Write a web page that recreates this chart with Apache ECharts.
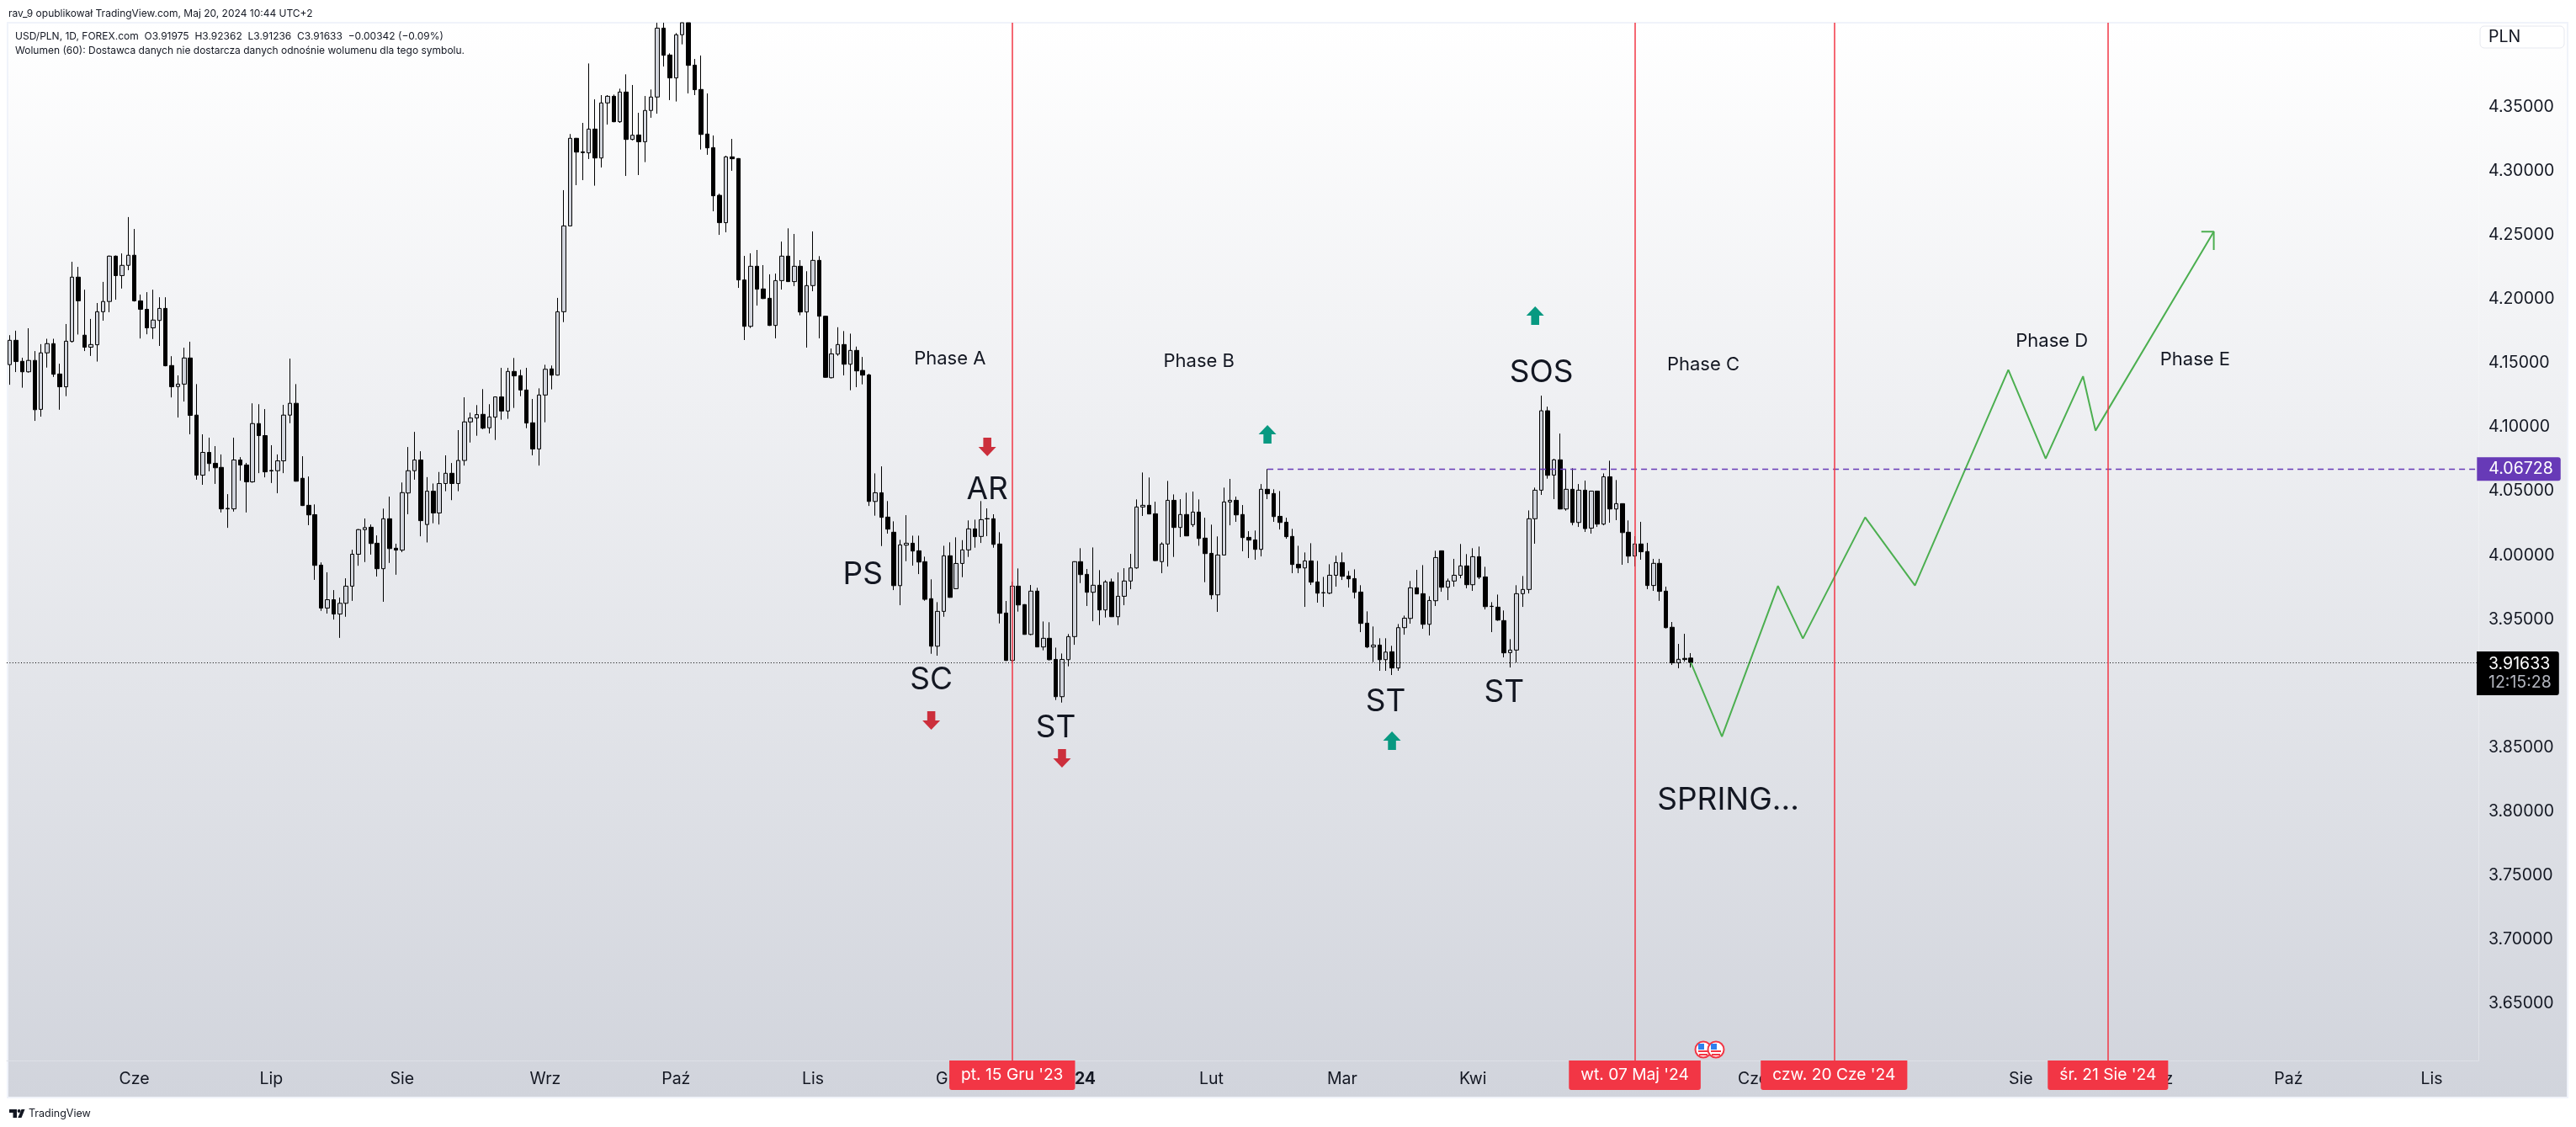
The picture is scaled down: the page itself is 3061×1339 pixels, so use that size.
<!DOCTYPE html>
<html>
<head>
<meta charset="utf-8">
<title>USD/PLN 1D</title>
<script src="https://cdn.jsdelivr.net/npm/echarts@6/dist/echarts.min.js"></script>
<style>
html,body{margin:0;padding:0;background:#fff}
#chart{width:3061px;height:1339px}
</style>
</head>
<body>
<div id="chart"></div>
<script>
// USD/PLN daily candles, one entry per session
const opens = [4.1488,4.1678,4.1514,4.1432,4.1521,4.1139,4.1580,4.1652,4.1415,4.1315,4.1669,4.2171,4.1718,4.1624,4.1643,4.1901,4.1981,4.2335,4.2183,4.2263,4.2342,4.1986,4.1920,4.1775,4.1833,4.1927,4.1481,4.1317,4.1336,4.1540,4.1094,4.0625,4.0803,4.0718,4.0686,4.0362,4.0362,4.0744,4.0705,4.0573,4.1028,4.0934,4.0662,4.0660,4.0737,4.1094,4.1186,4.0601,4.0390,4.0317,3.9923,3.9588,3.9653,3.9541,3.9625,3.9759,4.0008,4.0200,4.0219,4.0094,3.9895,4.0285,4.0055,4.0040,4.0486,4.0660,4.0744,4.0240,4.0500,4.0330,4.0560,4.0640,4.0560,4.0740,4.1041,4.1071,4.1100,4.0995,4.1078,4.1236,4.1126,4.1435,4.1402,4.1290,4.1034,4.0830,4.1251,4.1455,4.1406,4.1901,4.2571,4.3255,4.3149,4.3141,4.3327,4.3101,4.3531,4.3583,4.3384,4.3616,4.3246,4.3281,4.3228,4.3472,4.3577,4.4115,4.3905,4.3726,4.4063,4.4157,4.3826,4.3636,4.3288,4.3182,4.2810,4.2596,4.3110,4.3097,4.2149,4.1787,4.2256,4.2079,4.2006,4.1794,4.2144,4.2335,4.2136,4.2256,4.1899,4.2105,4.2302,4.1866,4.1386,4.1570,4.1645,4.1491,4.1599,4.1443,4.1408,4.0420,4.0488,4.0298,4.0180,3.9763,4.0079,4.0094,4.0035,3.9950,3.9661,3.9290,3.9562,3.9996,3.9739,3.9936,4.0042,4.0206,4.0147,4.0286,4.0285,4.0088,3.9549,3.9179,3.9759,3.9615,3.9382,3.9720,3.9284,3.9352,3.9187,3.8896,3.9185,3.9365,3.9950,3.9851,3.9711,3.9766,3.9573,3.9792,3.9520,3.9680,3.9799,3.9901,4.0377,4.0390,4.0324,3.9950,4.0088,4.0429,4.0217,4.0318,4.0239,4.0337,4.0134,4.0015,3.9691,4.0002,4.0416,4.0429,4.0318,4.0140,4.0120,4.0046,4.0515,4.0482,4.0304,4.0258,4.0147,3.9930,3.9901,3.9956,3.9792,3.9706,3.9704,3.9844,3.9943,3.9838,3.9818,3.9713,3.9470,3.9284,3.9299,3.9185,3.9247,3.9120,3.9435,3.9507,3.9746,3.9700,3.9461,3.9645,4.0035,3.9750,3.9799,3.9844,3.9917,3.9770,3.9989,3.9831,3.9600,3.9595,3.9490,3.9240,3.9260,3.9700,3.9733,4.0285,4.0508,4.1128,4.0626,4.0745,4.0361,4.0515,4.0256,4.0508,4.0212,4.0501,4.0243,4.0613,4.0361,4.0403,4.0180,3.9994,4.0088,4.0029,3.9764,3.9937,3.9720,3.9438,3.9160,3.9195,3.91975];
const closes = [4.1678,4.1512,4.1432,4.1521,4.1136,4.1580,4.1652,4.1413,4.1315,4.1671,4.2171,4.1986,4.1624,4.1645,4.1901,4.1981,4.2335,4.2183,4.2263,4.2342,4.1986,4.1920,4.1775,4.1836,4.1927,4.1479,4.1315,4.1336,4.1540,4.1092,4.0625,4.0803,4.0716,4.0683,4.0362,4.0366,4.0744,4.0705,4.0573,4.1028,4.0934,4.0651,4.0658,4.0737,4.1094,4.1186,4.0578,4.0388,4.0315,3.9921,3.9588,3.9653,3.9541,3.9625,3.9759,4.0008,4.0200,4.0216,4.0092,3.9895,4.0285,4.0052,4.0040,4.0489,4.0660,4.0744,4.0270,4.0500,4.0330,4.0560,4.0640,4.0560,4.0740,4.1041,4.1071,4.1098,4.0992,4.1080,4.1236,4.1126,4.1435,4.1400,4.1290,4.1032,4.0830,4.1251,4.1452,4.1406,4.1901,4.2571,4.3255,4.3147,4.3143,4.3327,4.3101,4.3531,4.3583,4.3384,4.3616,4.3246,4.3279,4.3228,4.3472,4.3577,4.4115,4.3903,4.3726,4.4063,4.4157,4.3824,4.3634,4.3285,4.3180,4.2806,4.2596,4.3110,4.3095,4.2149,4.1787,4.2256,4.2077,4.2004,4.1794,4.2144,4.2335,4.2136,4.2256,4.1899,4.2105,4.2302,4.1866,4.1389,4.1572,4.1645,4.1491,4.1599,4.1439,4.1406,4.0420,4.0488,4.0296,4.0204,3.9763,4.0081,4.0094,4.0033,3.9947,3.9656,3.9290,3.9562,3.9996,3.9671,3.9936,4.0042,4.0206,4.0145,4.0278,4.0284,4.0085,3.9547,3.9179,3.9759,3.9612,3.9382,3.9720,3.9284,3.9352,3.9185,3.8896,3.9187,3.9365,3.9950,3.9849,3.9711,3.9766,3.9573,3.9792,3.9520,3.9680,3.9799,3.9901,4.0377,4.0390,4.0322,3.9958,4.0088,4.0429,4.0217,4.0318,4.0151,4.0337,4.0131,4.0013,3.9691,4.0002,4.0416,4.0429,4.0315,4.0138,4.0118,4.0046,4.0515,4.0480,4.0302,4.0256,4.0145,3.9928,3.9901,3.9956,3.9790,3.9704,3.9708,3.9844,3.9943,3.9836,3.9816,3.9711,3.9468,3.9284,3.9299,3.9185,3.9244,3.9120,3.9435,3.9509,3.9746,3.9698,3.9461,3.9647,3.9982,3.9750,3.9799,3.9844,3.9917,3.9770,3.9989,3.9829,3.9599,3.9602,3.9494,3.9238,3.9260,3.9700,3.9733,4.0285,4.0508,4.1128,4.0624,4.0745,4.0361,4.0515,4.0256,4.0508,4.0208,4.0501,4.0243,4.0613,4.0361,4.0403,4.0177,3.9993,4.0088,4.0027,3.9764,3.9937,3.9718,3.9435,3.9160,3.9188,3.9186,3.91633];
const lows = [4.1331,4.1430,4.1308,4.1425,4.1049,4.1082,4.1465,4.1392,4.1136,4.1242,4.1660,4.1723,4.1594,4.1556,4.1512,4.1831,4.1897,4.1995,4.2082,4.2225,4.1980,4.1692,4.1725,4.1688,4.1634,4.1475,4.1232,4.1075,4.1200,4.0944,4.0590,4.0550,4.0655,4.0557,4.0334,4.0214,4.0341,4.0582,4.0334,4.0566,4.0641,4.0608,4.0564,4.0484,4.0641,4.1031,4.0575,4.0385,4.0235,3.9808,3.9566,3.9545,3.9498,3.9355,3.9520,3.9644,3.9918,3.9947,4.0005,3.9834,3.9637,3.9940,3.9848,4.0024,4.0320,4.0590,4.0148,4.0100,4.0250,4.0240,4.0500,4.0430,4.0500,4.0700,4.0880,4.0933,4.0984,4.0951,4.0900,4.1058,4.1065,4.1150,4.1242,4.0992,4.0780,4.0700,4.1038,4.1295,4.1403,4.1820,4.2568,4.2889,4.2928,4.3093,4.2885,4.3027,4.3362,4.3380,4.3375,4.2961,4.3239,4.2968,4.3069,4.3415,4.3447,4.3815,4.3553,4.3542,4.3988,4.3605,4.3592,4.3167,4.3126,4.2685,4.2501,4.2521,4.3001,4.2087,4.1680,4.1774,4.1949,4.2000,4.1790,4.1693,4.2074,4.2133,4.2101,4.1873,4.1621,4.2061,4.1693,4.1385,4.1380,4.1557,4.1404,4.1288,4.1312,4.1334,4.0385,4.0309,4.0072,4.0169,3.9728,3.9610,3.9954,3.9919,3.9853,3.9645,3.9231,3.9216,3.9520,3.9668,3.9735,3.9829,3.9987,4.0059,4.0096,4.0149,4.0059,3.9468,3.9175,3.9166,3.9560,3.9380,3.9376,3.9282,3.9258,3.9179,3.8870,3.8850,3.9133,3.9301,3.9783,3.9604,3.9485,3.9455,3.9514,3.9518,3.9455,3.9610,3.9735,3.9895,4.0307,4.0320,3.9954,3.9860,3.9912,3.9987,4.0142,4.0149,4.0221,4.0074,3.9790,3.9656,3.9558,4.0000,4.0234,4.0261,4.0031,3.9978,3.9965,3.9991,4.0438,4.0261,4.0201,4.0129,3.9860,3.9860,3.9597,3.9768,3.9630,3.9597,3.9696,3.9755,3.9807,3.9748,3.9663,3.9400,3.9275,3.9166,3.9098,3.9098,3.9065,3.9098,3.9380,3.9466,3.9696,3.9426,3.9374,3.9604,3.9715,3.9650,3.9755,3.9820,3.9742,3.9722,3.9814,3.9577,3.9400,3.9488,3.9203,3.9124,3.9163,3.9597,3.9702,4.0090,4.0471,4.0598,4.0438,4.0358,4.0348,4.0234,4.0221,4.0182,4.0169,4.0221,4.0234,4.0254,4.0274,3.9926,3.9939,3.9913,3.9965,3.9735,3.9722,3.9644,3.9429,3.9144,3.9118,3.9170,3.91236];
const highs = [4.1718,4.1753,4.1542,4.1772,4.1594,4.1648,4.1690,4.1690,4.1495,4.1805,4.2291,4.2251,4.2073,4.1845,4.1969,4.2134,4.2340,4.2340,4.2356,4.2640,4.2547,4.2035,4.2054,4.2073,4.2014,4.2014,4.1554,4.1404,4.1620,4.1667,4.1336,4.0944,4.0918,4.0852,4.0787,4.0477,4.0918,4.0766,4.0721,4.1186,4.1179,4.1141,4.0859,4.0787,4.1174,4.1535,4.1336,4.0773,4.0615,4.0397,3.9944,3.9867,3.9728,3.9670,3.9820,4.0043,4.0205,4.0287,4.0240,4.0155,4.0364,4.0458,4.0090,4.0568,4.0845,4.0963,4.0812,4.0610,4.0560,4.0650,4.0780,4.0720,4.0977,4.1233,4.1113,4.1172,4.1297,4.1179,4.1240,4.1463,4.1463,4.1540,4.1448,4.1463,4.1220,4.1303,4.1487,4.1481,4.2009,4.2850,4.3288,4.3258,4.3375,4.3839,4.3559,4.3592,4.3592,4.3596,4.3642,4.3754,4.3671,4.3454,4.3585,4.3636,4.4157,4.4157,4.3918,4.4076,4.4157,4.4157,4.3874,4.3901,4.3605,4.3277,4.2823,4.3119,4.3250,4.3100,4.2337,4.2357,4.2383,4.2265,4.2193,4.2199,4.2449,4.2552,4.2508,4.2304,4.2217,4.2528,4.2335,4.1870,4.1614,4.1780,4.1750,4.1730,4.1629,4.1548,4.1417,4.0639,4.0694,4.0423,4.0265,4.0120,4.0313,4.0153,4.0153,3.9989,3.9812,3.9634,4.0074,4.0101,4.0140,4.0118,4.0272,4.0278,4.0423,4.0366,4.0320,4.0180,3.9643,3.9794,3.9897,3.9618,3.9768,3.9746,3.9483,3.9477,3.9279,3.9233,3.9385,3.9953,4.0055,3.9893,4.0061,3.9884,3.9805,3.9818,3.9866,3.9899,4.0011,4.0436,4.0646,4.0607,4.0418,4.0101,4.0580,4.0475,4.0438,4.0488,4.0497,4.0436,4.0293,4.0239,4.0147,4.0528,4.0596,4.0458,4.0392,4.0188,4.0193,4.0556,4.06728,4.0515,4.0501,4.0293,4.0206,4.0074,4.0022,4.0094,3.9956,3.9831,3.9930,3.9996,4.0022,3.9877,3.9890,3.9766,3.9562,3.9444,3.9352,3.9352,3.9293,3.9463,3.9529,3.9799,3.9886,3.9923,3.9680,4.0035,4.0037,3.9818,3.9972,4.0088,4.0009,4.0055,4.0068,3.9910,3.9634,3.9693,3.9569,3.9345,3.9766,3.9838,4.0350,4.0528,4.1246,4.1160,4.0753,4.0950,4.0670,4.0679,4.0556,4.0583,4.0504,4.0504,4.0639,4.0738,4.0587,4.0405,4.0272,4.0149,4.0261,4.0097,3.9972,3.9972,3.9755,3.9479,3.9308,3.9387,3.92362];

// Time axis: 397 bar slots, month names sit on the first session of each month
const barSlots = 397;
const monthBars = [20,42,63,86,107,129,151,171,193,214,235,256,280,323,345,366,389];
const monthNames = ['Cze','Lip','Sie','Wrz','Paź','Lis','Gru','2024','Lut','Mar','Kwi','Maj','Cze','Sie','Wrz','Paź','Lis'];

// Price axis
const priceTicks = [3.65,3.70,3.75,3.80,3.85,3.95,4.00,4.05,4.10,4.15,4.20,4.25,4.30,4.35];
const lastPrice = 3.91633;
const lastCountdown = '12:15:28';
const rangeHigh = 4.06728;
const rangeHighBar = 202;

// Vertical date markers
const markerBars = [161,261,293,337];
const markerLabels = ["pt. 15 Gru '23","wt. 07 Maj '24","czw. 20 Cze '24","śr. 21 Sie '24"];

// Projected path after the last session
const pathBars = [270,275,284,288,298,306,321,327,333,335,354];
const pathPrices = [3.91633,3.8585,3.9761,3.9350,4.0296,3.9764,4.1447,4.0754,4.1397,4.0973,4.2526];
const headBars = [352,354,354];
const headPrices = [4.2526,4.2526,4.2383];

// Wyckoff annotations
const phaseNames = ['Phase A','Phase B','Phase C','Phase D','Phase E'];
const phaseBars = [151,191,272,328,351];
const phasePrices = [4.1535,4.1516,4.1490,4.1668,4.1529];
const eventNames = ['PS','AR','SC','ST','ST','ST','SOS','SPRING...'];
const eventBars = [137,157,148,168,221,240,246,276];
const eventPrices = [3.9860,4.0524,3.9039,3.8665,3.8868,3.8940,4.1437,3.8099];
const downBars = [157,148,169];
const downPrices = [4.0846,3.8710,3.8415];
const upBars = [202,222,245];
const upPrices = [4.0944,3.8553,4.1871];

const INK = '#131722';
const FONT = 'Inter, "Noto Sans", sans-serif';
const RED = '#f23645';
const PURPLE = '#673ab7';
const ARROW_DOWN = 'path://M6 0H16V11H22L11 22L0 11H6Z';
const ARROW_UP = 'path://M11 0L22 11H16V22H6V11H0Z';

const zip = (a, b) => a.map((v, i) => [v, b[i]]);
const candles = opens.map((o, i) => [o, closes[i], lows[i], highs[i]]);
const slots = Array.from({length: barSlots}, (_, i) => String(i));
const monthAt = Object.fromEntries(monthBars.map((b, i) => [String(b), monthNames[i]]));

const noteSeries = (names, bars, prices, size, nudge) => ({
  type: 'scatter',
  silent: true,
  symbolSize: 1,
  itemStyle: {color: 'transparent', opacity: 1},
  data: bars.map((b, i) => ({value: [b, prices[i]], name: names[i]})),
  label: {show: true, position: 'inside', formatter: p => p.name, color: INK, offset: [0, nudge],
          fontFamily: FONT, fontSize: size, align: 'center', verticalAlign: 'middle'}
});
const arrowSeries = (bars, prices, symbol, color) => ({
  type: 'scatter',
  silent: true,
  symbol: symbol,
  symbolSize: [21, 22],
  itemStyle: {color: color, opacity: 1},
  data: zip(bars, prices)
});
const flag = x => ({
  type: 'group', x: x, y: 1247, z: 20,
  children: [
    {type: 'circle', shape: {r: 9.5}, style: {fill: '#fff', stroke: RED, lineWidth: 2}},
    {type: 'rect', shape: {x: -6, y: 1, width: 12, height: 2}, style: {fill: RED}},
    {type: 'rect', shape: {x: -5, y: 5, width: 10, height: 2}, style: {fill: RED}},
    {type: 'rect', shape: {x: -6, y: -7, width: 7, height: 7}, style: {fill: '#2f80ed'}}
  ]
});
const text = (x, y, t, size, extra) => ({
  type: 'text', x: x, y: y, z: 20,
  style: Object.assign({text: t, fontFamily: FONT, fontSize: size, fill: INK, textVerticalAlign: 'middle'}, extra || {})
});

const chart = echarts.init(document.getElementById('chart'));
chart.setOption({
  animation: false,
  backgroundColor: '#fff',
  grid: {left: 8, right: 116, top: 27, bottom: 79},
  xAxis: {
    type: 'category',
    data: slots,
    boundaryGap: true,
    axisLine: {show: true, lineStyle: {color: '#dde0e7', width: 1}},
    axisTick: {show: false},
    splitLine: {show: false},
    axisLabel: {
      interval: 0,
      margin: 12,
      color: INK,
      fontFamily: FONT,
      fontSize: 19.5,
      formatter: v => {
        const name = monthAt[v] || '';
        return name === '2024' ? '{y|2024}' : name;
      },
      rich: {y: {fontFamily: FONT, fontSize: 19.5, fontWeight: 700, color: INK}}
    }
  },
  yAxis: {
    type: 'value',
    position: 'right',
    min: 3.6056,
    max: 4.4157,
    scale: true,
    axisLine: {show: true, lineStyle: {color: 'rgba(255,255,255,0.3)', width: 1}},
    axisTick: {show: false},
    splitLine: {show: false},
    axisLabel: {
      customValues: priceTicks,
      margin: 12,
      color: INK,
      fontFamily: FONT,
      fontSize: 19.5,
      formatter: v => v.toFixed(5)
    }
  },
  graphic: [
    // pane background and frame
    {type: 'rect', z: -10, silent: true,
     shape: {x: 9, y: 27, width: 3042, height: 1277},
     style: {
       stroke: '#f0f3fa', lineWidth: 2,
       fill: new echarts.graphic.LinearGradient(0, 0, 0, 1, [
         {offset: 0, color: '#ffffff'}, {offset: 1, color: '#d1d4dc'}])
     }},
    // currency chip above the price scale
    {type: 'rect', z: 20, shape: {x: 2947, y: 31, width: 100, height: 26, r: 5},
     style: {fill: 'rgba(255,255,255,0.6)', stroke: '#e6e8ef', lineWidth: 1}},
    text(2957, 44, 'PLN', 19.5),
    // publication line and legend
    text(10, 16, 'rav_9 opublikował TradingView.com, Maj 20, 2024 10:44 UTC+2', 12),
    text(18, 43, 'USD/PLN, 1D, FOREX.com  O3.91975  H3.92362  L3.91236  C3.91633  −0.00342 (−0.09%)', 12),
    text(18, 60, 'Wolumen (60): Dostawca danych nie dostarcza danych odnośnie wolumenu dla tego symbolu.', 12),
    // economic calendar badges
    flag(2024), flag(2039),
    // footer mark
    {type: 'polygon', z: 20, shape: {points: [[11,1318],[20,1318],[20,1328],[15.5,1328],[15.5,1322],[11,1322]]}, style: {fill: INK}},
    {type: 'circle', z: 20, shape: {cx: 22.6, cy: 1320, r: 2}, style: {fill: INK}},
    {type: 'polygon', z: 20, shape: {points: [[25.5,1318],[29.5,1318],[25.5,1328],[21.3,1328]]}, style: {fill: INK}},
    text(34, 1323, 'TradingView', 12.5)
  ],
  series: [
    {
      type: 'candlestick',
      silent: true,
      clip: true,
      data: candles,
      barWidth: 5,
      itemStyle: {
        color: '#d1d4dc',
        color0: '#000000',
        borderColor: '#000000',
        borderColor0: '#000000',
        borderColorDoji: '#000000',
        borderWidth: 1
      },
      markLine: {
        silent: true,
        symbol: 'none',
        animation: false,
        precision: 5,
        data: [
          // last price
          {
            yAxis: lastPrice,
            lineStyle: {color: '#000', type: [1, 2.4], width: 1},
            label: {
              show: true, position: 'end', distance: 0, offset: [-2, 13],
              formatter: '{p|' + lastPrice.toFixed(5) + '}\n{t|' + lastCountdown + '}',
              backgroundColor: '#000', borderRadius: [0, 3, 3, 0],
              padding: [4, 9, 4, 14],
              align: 'left',
              rich: {
                p: {color: '#fff', fontFamily: FONT, fontSize: 19.5, lineHeight: 22},
                t: {color: '#b2b5be', fontFamily: FONT, fontSize: 19.5, lineHeight: 22}
              }
            }
          },
          // range high carried to the price scale
          [
            {
              coord: [rangeHighBar, rangeHigh],
              lineStyle: {color: PURPLE, type: [7, 5], width: 1.3},
              label: {
                show: true, position: 'end', distance: 2,
                formatter: rangeHigh.toFixed(5),
                color: '#fff', fontFamily: FONT, fontSize: 19.5,
                backgroundColor: PURPLE, borderRadius: [0, 3, 3, 0],
                padding: [4, 9, 4, 14], align: 'left'
              }
            },
            {coord: [barSlots - 1, rangeHigh]}
          ],
          // dated verticals with their axis tags
          ...markerBars.map((b, i) => ({
            xAxis: b,
            lineStyle: {color: RED, type: 'solid', width: 1.5},
            label: {
              show: true, position: 'start', distance: 0,
              formatter: markerLabels[i],
              color: '#fff', fontFamily: FONT, fontSize: 19.2,
              backgroundColor: RED, borderRadius: [0, 0, 3, 3],
              padding: [8, 14, 8, 14], align: 'center', verticalAlign: 'top'
            }
          }))
        ]
      }
    },
    {
      type: 'line', silent: true, symbol: 'none', smooth: false,
      lineStyle: {color: '#4caf50', width: 2},
      data: zip(pathBars, pathPrices)
    },
    {
      type: 'line', silent: true, symbol: 'none', smooth: false,
      lineStyle: {color: '#4caf50', width: 2},
      data: zip(headBars, headPrices)
    },
    noteSeries(phaseNames, phaseBars, phasePrices, 22, 0),
    noteSeries(eventNames, eventBars, eventPrices, 37, 2),
    arrowSeries(downBars, downPrices, ARROW_DOWN, '#cc2f3c'),
    arrowSeries(upBars, upPrices, ARROW_UP, '#089981')
  ]
});
</script>
</body>
</html>
